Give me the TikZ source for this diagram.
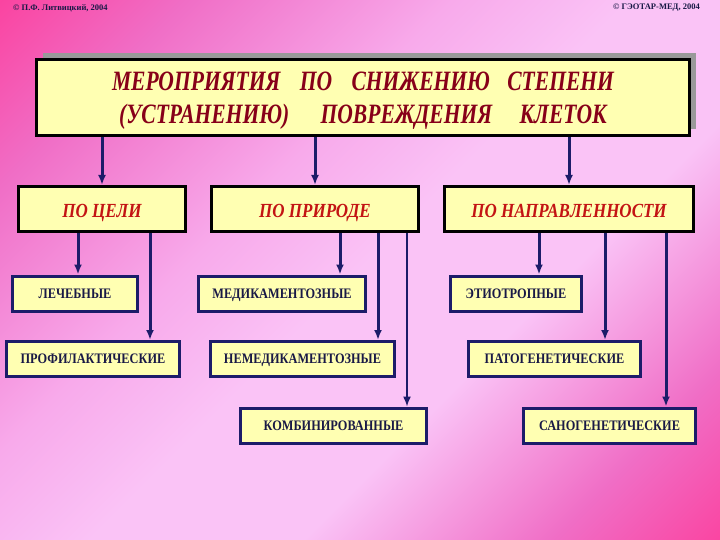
\documentclass[tikz,border=0pt]{standalone}
\usepackage{fontspec}
\setmainfont{Liberation Serif}
\newfontfamily\narrowfont[FakeStretch=0.85]{Liberation Serif}
\newfontfamily\tightfont[FakeStretch=0.77]{Liberation Serif}
\usetikzlibrary{arrows.meta,shadows}
\definecolor{bgdeep}{RGB}{255,50,145}
\definecolor{bgmid}{RGB}{240,110,198}
\definecolor{bgpale}{RGB}{248,170,235}
\definecolor{bglight}{RGB}{250,195,246}
\definecolor{boxfill}{RGB}{255,255,178}
\definecolor{navy}{RGB}{28,28,105}
\definecolor{titlered}{RGB}{135,0,25}
\definecolor{headred}{RGB}{195,20,20}
\definecolor{itemblue}{RGB}{25,25,70}
\pgfdeclarehorizontalshading{slidebg}{100bp}{color(0bp)=(bgdeep); color(10bp)=(bgdeep); color(25bp)=(bgmid); color(40bp)=(bgpale); color(50bp)=(bglight); color(62bp)=(bglight); color(76bp)=(bgmid); color(90bp)=(bgdeep); color(100bp)=(bgdeep)}

\begin{document}
\begin{tikzpicture}[x=1pt,y=-1pt,
  headbox/.style={draw=black,line width=3pt,fill=boxfill,minimum width=653pt,minimum height=76pt,
    align=center,inner sep=0pt,text depth=0pt,
    drop shadow={shadow xshift=6pt,shadow yshift=6pt,fill=black!40,opacity=1},
    font=\tightfont\bfseries\itshape\fontsize{28}{33}\selectfont,text=titlered},
  groupbox/.style={draw=black,line width=3pt,fill=boxfill,minimum height=45pt,inner sep=0pt,
    text height=17pt,text depth=0pt,
    font=\narrowfont\bfseries\itshape\fontsize{20}{22}\selectfont,text=headred},
  itembox/.style={draw=navy,line width=3pt,fill=boxfill,minimum height=35pt,inner sep=0pt,
    text height=9.8pt,text depth=0pt,
    font=\narrowfont\bfseries\fontsize{14.5}{16}\selectfont,text=itemblue},
  credit/.style={font=\bfseries\fontsize{8.5}{10}\selectfont,text=itemblue,inner sep=0pt},
  arr/.style={-{Latex[length=10pt,width=8pt]},draw=navy,line width=3pt},
  arrthin/.style={-{Latex[length=10pt,width=8pt]},draw=navy,line width=1.5pt}]
  % background
  \fill[shading=slidebg,shading angle=-45] (0,0) rectangle (720,540);
  \node[credit,anchor=west] (author) at (13,8) {© П.Ф. Литвицкий, 2004};
  \node[credit,anchor=east] (publisher) at (700,8) {© ГЭОТАР-МЕД, 2004};

  % title
  \node[headbox] (head) at (363,97.5)
    {МЕРОПРИЯТИЯ\hspace{14pt} ПО\hspace{14pt} СНИЖЕНИЮ\hspace{12pt} СТЕПЕНИ\\
     (УСТРАНЕНИЮ)\hspace{26pt} ПОВРЕЖДЕНИЯ\hspace{22pt} КЛЕТОК};

  % criteria
  \node[groupbox,minimum width=167pt] (goal) at (102,209) {ПО ЦЕЛИ};
  \node[groupbox,minimum width=207pt] (nature) at (315,209) {ПО ПРИРОДЕ};
  \node[groupbox,minimum width=249pt] (aim) at (569,209) {ПО НАПРАВЛЕННОСТИ};

  % kinds
  \node[itembox,minimum width=125pt] (cure) at (75,293.5) {ЛЕЧЕБНЫЕ};
  \node[itembox,minimum width=173pt] (prevent) at (93,359) {ПРОФИЛАКТИЧЕСКИЕ};
  \node[itembox,minimum width=167pt] (drug) at (282,293.5) {МЕДИКАМЕНТОЗНЫЕ};
  \node[itembox,minimum width=184pt] (nodrug) at (302.5,359) {НЕМЕДИКАМЕНТОЗНЫЕ};
  \node[itembox,minimum width=186pt] (mixed) at (333.5,425.5) {КОМБИНИРОВАННЫЕ};
  \node[itembox,minimum width=131pt] (etio) at (516,293.5) {ЭТИОТРОПНЫЕ};
  \node[itembox,minimum width=172pt] (patho) at (554.5,359) {ПАТОГЕНЕТИЧЕСКИЕ};
  \node[itembox,minimum width=172pt] (sano) at (609.5,425.5) {САНОГЕНЕТИЧЕСКИЕ};

  \draw[arr] (head.south -| goal.north) -- (goal.north);
  \draw[arr] (head.south -| nature.north) -- (nature.north);
  \draw[arr] (head.south -| aim.north) -- (aim.north);

  \draw[arr] (78,0 |- goal.south) -- (78,0 |- cure.north);
  \draw[arr] (150,0 |- goal.south) -- (150,0 |- prevent.north);
  \draw[arr] (340,0 |- nature.south) -- (340,0 |- drug.north);
  \draw[arr] (378,0 |- nature.south) -- (378,0 |- nodrug.north);
  \draw[arrthin] (407,0 |- nature.south) -- (407,0 |- mixed.north);
  \draw[arr] (539,0 |- aim.south) -- (539,0 |- etio.north);
  \draw[arr] (605,0 |- aim.south) -- (605,0 |- patho.north);
  \draw[arr] (666,0 |- aim.south) -- (666,0 |- sano.north);
\end{tikzpicture}
\end{document}
